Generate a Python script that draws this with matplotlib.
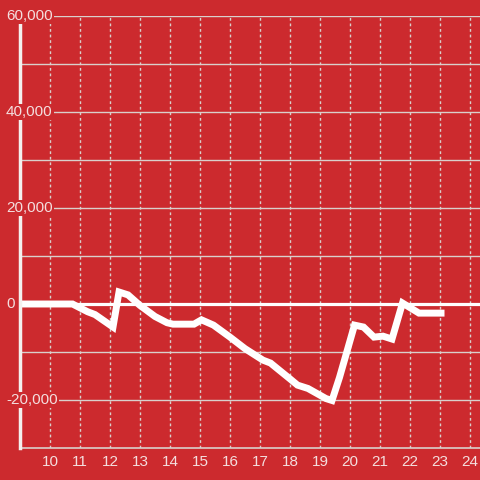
import numpy as np
import matplotlib
matplotlib.use("Agg")
import matplotlib.pyplot as plt
import matplotlib.transforms as mtrans

plt.rcParams['font.family'] = ['Liberation Sans', 'DejaVu Sans']

BG = "#cc2a2e"
GRID = "#d9d0cc"
TXT = "#f4dede"

hours = [9.0, 10.75, 11.25, 11.5, 12.1, 12.3, 12.6, 13.0, 13.5, 13.9, 14.1,
         14.8, 15.05, 15.45, 16.0, 16.5, 17.1, 17.35, 18.0, 18.25, 18.6, 19.2,
         19.4, 19.65, 20.15, 20.45, 20.8, 21.1, 21.4, 21.75, 22.3, 23.15]
values = [0, 0, -1600, -2200, -4800, 2500, 1900, -300, -2600, -3900, -4200,
          -4200, -3300, -4400, -6900, -9300, -11700, -12300, -15600, -16900,
          -17600, -19700, -20100, -15300, -4400, -4800, -6900, -6700,
          -7300, 200, -1900, -1900]

x_ticks = list(range(10, 25))
y_labels = [60000, 40000, 20000, 0, -20000]

fig = plt.figure(figsize=(4.8, 4.8), dpi=100, facecolor=BG)
ax = fig.add_axes([20 / 480, 32 / 480, 460 / 480, 432 / 480])
ax.set_facecolor(BG)
ax.set_xlim(9, 9 + 460 / 30)
ax.set_ylim(-30000, 60000)

# grid
for v in range(-20000, 60001, 10000):
    ax.axhline(v, color=GRID, lw=1.0, zorder=1)
for h in x_ticks:
    ax.axvline(h, color=GRID, lw=1.0, ls=(0, (2, 2)), zorder=1)
ax.axhline(0, color="white", lw=2.3, zorder=2)

ax.plot(hours, values, color="white", lw=5.0, solid_joinstyle="miter",
        solid_capstyle="butt", zorder=3)

for s in ["top", "right"]:
    ax.spines[s].set_visible(False)
ax.spines["bottom"].set_color(GRID)
ax.spines["bottom"].set_linewidth(1.2)
ax.spines["left"].set_color("#f4f0ee")
ax.spines["left"].set_linewidth(2.5)
ax.spines["left"].set_bounds(-30000, 58300)
ax.spines["left"].set_zorder(4)

ax.set_yticks([])
ax.set_xticks(x_ticks)
ax.set_xticklabels([str(h) for h in x_ticks], color=TXT, fontsize=11)
ax.tick_params(axis="x", length=0, pad=5)

tr = mtrans.blended_transform_factory(fig.transFigure, ax.transData)
for v in y_labels:
    ax.text(6 / 480, v, f"{v:,}", transform=tr, ha="left", va="center",
            color=TXT, fontsize=11, zorder=6, clip_on=False,
            bbox=dict(facecolor=BG, edgecolor="none", pad=1.0))

fig.savefig("out.png", dpi=100, facecolor=BG)
